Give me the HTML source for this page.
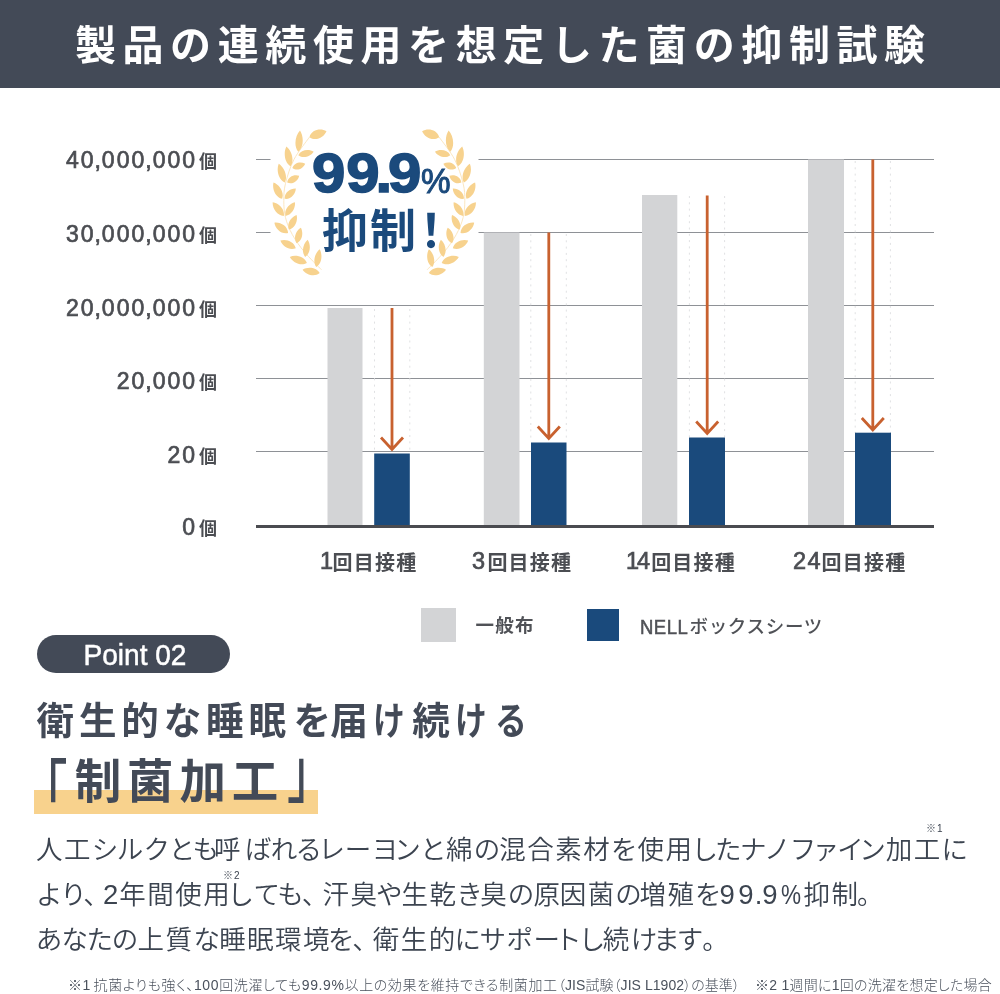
<!DOCTYPE html>
<html lang="ja">
<head>
<meta charset="utf-8">
<title>製品の連続使用を想定した菌の抑制試験</title>
<style>
html,body{margin:0;padding:0;background:#fff;}
body{width:1000px;height:994px;position:relative;overflow:hidden;
  font-family:"Liberation Sans","Noto Sans CJK JP",sans-serif;color:#434a57;}
.abs{position:absolute;white-space:nowrap;line-height:1;}
#hdr{position:absolute;left:0;top:0;width:1000px;height:87.8px;background:#434a57;}
#title{left:0;width:1000px;top:26px;text-align:center;color:#fff;font-size:41px;font-weight:700;letter-spacing:6.6px;text-indent:6.6px;}
.yl{right:783px;font-size:23px;font-weight:400;letter-spacing:2px;color:#4b4d52;text-align:right;-webkit-text-stroke:0.7px #4b4d52;}
.yl span{font-size:18px;letter-spacing:0;font-weight:700;margin-left:2px;-webkit-text-stroke:0;}
.yl i{font-style:normal;margin:0 -1px;}
.grid{position:absolute;left:256px;width:678px;height:1px;background:#8e9196;}
.gb{position:absolute;background:#d3d4d6;}
.bb{position:absolute;background:#1a4a7c;}
.xl{font-size:20px;font-weight:700;letter-spacing:1.2px;color:#4b4d52;top:551px;}
.xl b{position:relative;top:-1px;font-size:23.5px;font-weight:400;letter-spacing:1.5px;-webkit-text-stroke:0.7px #4b4d52;margin-right:0;}
.lg{font-size:18.5px;font-weight:700;letter-spacing:0.5px;color:#505257;}
.nl{display:inline-block;font-weight:400;font-size:21px;letter-spacing:0.6px;transform:scaleX(0.88);transform-origin:0 50%;margin-right:-5.5px;-webkit-text-stroke:0.6px #505257;position:relative;top:0.5px;}
#pill{position:absolute;left:36.6px;top:635.3px;width:193.8px;height:37.3px;border-radius:19px;background:#434a57;}
#pilltx{left:35px;width:200px;top:640px;text-align:center;color:#fff;font-size:29.5px;letter-spacing:0;transform:scaleX(0.95);-webkit-text-stroke:0.5px #fff;}
#h1{left:36.5px;top:702.5px;font-size:37.5px;font-weight:700;letter-spacing:4.9px;color:#434a57;}
#h1 .k{display:inline-block;transform:scaleX(0.85);transform-origin:0 50%;margin-right:-5.5px;}
#hl{position:absolute;left:33.5px;top:790.4px;width:284px;height:23.4px;background:#f8d28d;}
#h2 .br{display:inline-block;font-weight:500;}
#h2{left:22.5px;top:759px;font-size:46.5px;font-weight:700;letter-spacing:5.8px;color:#434a57;}
.body{left:36px;font-size:26.5px;font-weight:350;letter-spacing:1.5px;color:#3c4450;font-feature-settings:"palt";}
.body .h{letter-spacing:-0.3px;}
.body .d{font-size:27.5px;letter-spacing:3.4px;}
.body .p{display:inline-block;font-size:27.5px;letter-spacing:0;transform:scaleX(0.82);transform-origin:0 50%;margin-right:2px;}
.sup{font-size:10px;color:#3c4450;letter-spacing:1px;}
#fn{left:69px;top:977.5px;font-size:14px;font-weight:300;letter-spacing:0px;color:#4a515c;font-feature-settings:"palt";}
</style>
</head>
<body>
<div id="hdr"></div>
<div id="title" class="abs">製品の連続使用を想定した菌の抑制試験</div>

<!-- chart -->
<div class="grid" style="top:159px"></div>
<div class="grid" style="top:232px"></div>
<div class="grid" style="top:305px"></div>
<div class="grid" style="top:378px"></div>
<div class="grid" style="top:451px"></div>

<div class="abs yl" style="top:149px">40<i>,</i>000<i>,</i>000<span>個</span></div>
<div class="abs yl" style="top:223px">30<i>,</i>000<i>,</i>000<span>個</span></div>
<div class="abs yl" style="top:296.5px">20<i>,</i>000<i>,</i>000<span>個</span></div>
<div class="abs yl" style="top:370px">20<i>,</i>000<span>個</span></div>
<div class="abs yl" style="top:444px">20<span>個</span></div>
<div class="abs yl" style="top:516px">0<span>個</span></div>

<svg class="abs" style="left:0;top:0" width="1000" height="994" viewBox="0 0 1000 994">
  <g fill="#d3d4d6">
    <rect x="327.500" y="308" width="35" height="217"/>
    <rect x="483.800" y="232.500" width="35.700" height="292.500"/>
    <rect x="642" y="195" width="35.300" height="330"/>
    <rect x="808" y="159.500" width="36" height="365.500"/>
  </g>
  <g stroke="#e0e1e3" stroke-width="1" stroke-dasharray="2 4.300" fill="none">
    <path d="M374.500 309V453M409.800 309V453"/>
    <path d="M530.800 234V442M566.300 234V442"/>
    <path d="M689.400 196V437M724.600 196V437"/>
    <path d="M855.200 161V433M890.400 161V433"/>
  </g>
  <g fill="#1a4a7c">
    <rect x="374.200" y="453.500" width="35.600" height="71.500"/>
    <rect x="531" y="442.500" width="35.500" height="82.500"/>
    <rect x="689" y="437.500" width="36" height="87.500"/>
    <rect x="855" y="432.700" width="36" height="92.300"/>
  </g>
  <g stroke="#c8612f" stroke-width="2.8" fill="none" stroke-linecap="butt" stroke-linejoin="miter">
    <path d="M392 308V450M381 437.500L392 449.500L403 437.500"/>
    <path d="M548.800 232.500V439M537.800 426.500L548.800 438.500L559.800 426.500"/>
    <path d="M707.200 195.500V434M696.200 421.500L707.200 433.500L718.200 421.500"/>
    <path d="M872.800 159.500V429M861.800 418L872.800 430L883.800 418"/>
  </g>
  <rect x="256" y="525" width="678" height="3" fill="#4a4b50"/>
</svg>

<div class="abs xl" style="left:320px"><b style="margin-right:-2px">1</b>回目接種</div>
<div class="abs xl" style="left:472px"><b style="margin-right:0.8px">3</b>回目接種</div>
<div class="abs xl" style="left:626px"><b style="letter-spacing:-2px">1</b><b style="margin-right:-0.5px">4</b>回目接種</div>
<div class="abs xl" style="left:793px"><b style="margin-right:-0.6px">24</b>回目接種</div>

<div class="gb" style="left:421.4px;top:607.8px;width:34.8px;height:33.8px"></div>
<div class="abs lg" style="left:475.5px;top:616.5px;letter-spacing:1.3px">一般布</div>
<div class="bb" style="left:586.7px;top:608.9px;width:32.3px;height:31.9px"></div>
<div class="abs lg" style="left:640px;top:615px;font-weight:500;letter-spacing:0.7px"><span class="nl">NELL</span>ボックスシーツ</div>

<!-- badge -->
<!--LAUREL-->
<svg class="abs" style="left:0;top:0" width="1000" height="994" viewBox="0 0 1000 994">
  <rect x="270.500" y="118" width="208" height="172" fill="#fff"/>
  <path fill="none" stroke="#fae3b8" stroke-width="0.9" d="M309.4 137.2C306.8 140.9 298.0 151.7 294.0 159.4C290.0 167.1 287.2 176.6 285.5 183.4C283.8 190.2 283.8 194.8 283.8 200.5C283.8 206.2 284.1 211.9 285.5 217.6C286.9 223.3 289.3 229.0 292.4 234.7C295.5 240.4 299.5 246.0 304.3 251.8C309.1 257.6 318.5 266.7 321.4 269.7M439.2 137.2C441.8 140.9 450.6 151.7 454.6 159.4C458.6 167.1 461.4 176.6 463.1 183.4C464.8 190.2 464.8 194.8 464.8 200.5C464.8 206.2 464.5 211.9 463.1 217.6C461.7 223.3 459.3 229.0 456.2 234.7C453.1 240.4 449.1 246.0 444.3 251.8C439.5 257.6 430.1 266.7 427.2 269.7"/>
  <path fill="#f7d28e" d="M298.3 151.8C304.0 146.9 303.8 136.1 300.0 130.4C295.3 135.4 293.4 146.0 298.3 151.8ZM290.6 166.3C294.7 160.3 291.6 150.6 286.4 146.6C283.3 152.4 284.4 162.5 290.6 166.3ZM284.7 182.5C288.2 176.2 284.2 167.1 278.7 163.7C276.2 169.7 278.2 179.4 284.7 182.5ZM282.1 198.8C284.6 192.3 279.4 184.6 273.5 182.5C271.9 188.6 275.3 197.2 282.1 198.8ZM283.8 215.9C285.1 209.1 278.8 203.0 272.7 202.2C272.2 208.3 276.9 215.8 283.8 215.9ZM288.1 233.0C287.9 226.2 280.4 221.9 274.4 222.7C275.3 228.7 281.5 234.7 288.1 233.0ZM295.8 248.3C294.3 241.6 286.1 238.7 280.4 240.6C282.4 246.3 289.6 251.1 295.8 248.3ZM306.9 262.9C304.4 256.4 295.5 254.4 289.8 256.9C292.7 262.4 300.9 266.4 306.9 262.9ZM319.7 273.1C316.5 267.1 307.7 266.4 302.6 269.7C306.0 274.7 314.4 277.4 319.7 273.1ZM298.3 155.2C303.2 159.1 310.7 156.5 313.7 151.8C309.0 148.8 301.1 149.6 298.3 155.2ZM292.4 168.0C297.2 171.6 303.2 168.5 305.2 163.7C300.8 161.1 294.0 162.3 292.4 168.0ZM287.2 182.5C292.6 185.1 298.1 180.8 299.2 175.7C294.3 174.0 287.8 176.5 287.2 182.5ZM284.7 198.8C290.8 199.8 295.7 193.9 295.8 188.5C290.4 188.2 284.1 192.6 284.7 198.8ZM285.5 215.9C291.9 215.2 295.8 207.8 294.9 202.2C289.3 203.4 283.8 209.7 285.5 215.9ZM288.9 229.5C295.2 228.2 298.1 220.5 296.6 215.0C291.2 216.8 286.5 223.6 288.9 229.5ZM296.6 243.2C302.4 240.7 303.6 232.7 300.9 227.8C296.0 230.6 293.0 238.0 296.6 243.2ZM305.2 256.9C310.7 253.3 311.0 244.6 307.7 239.8C303.2 243.5 301.0 251.9 305.2 256.9ZM316.3 267.1C322.0 263.5 322.7 254.4 319.7 249.2C315.0 252.9 312.3 261.7 316.3 267.1ZM309.4 137.2C315.8 141.7 323.9 137.5 326.5 131.2C320.5 127.9 311.6 129.7 309.4 137.2Z"/>
  <path fill="#f7d28e" d="M450.3 151.8C455.2 146.0 453.3 135.4 448.6 130.4C444.8 136.1 444.6 146.9 450.3 151.8ZM458.0 166.3C464.2 162.5 465.3 152.4 462.2 146.6C457.0 150.6 453.9 160.3 458.0 166.3ZM463.9 182.5C470.4 179.4 472.4 169.7 469.9 163.7C464.4 167.1 460.4 176.2 463.9 182.5ZM466.5 198.8C473.3 197.2 476.7 188.6 475.1 182.5C469.2 184.6 464.0 192.3 466.5 198.8ZM464.8 215.9C471.7 215.8 476.4 208.3 475.9 202.2C469.8 203.0 463.5 209.1 464.8 215.9ZM460.5 233.0C467.1 234.7 473.3 228.7 474.2 222.7C468.2 221.9 460.7 226.2 460.5 233.0ZM452.8 248.3C459.0 251.1 466.2 246.3 468.2 240.6C462.5 238.7 454.3 241.6 452.8 248.3ZM441.7 262.9C447.7 266.4 455.9 262.4 458.8 256.9C453.1 254.4 444.2 256.4 441.7 262.9ZM428.9 273.1C434.2 277.4 442.6 274.7 446.0 269.7C440.9 266.4 432.1 267.1 428.9 273.1ZM450.3 155.2C447.5 149.6 439.6 148.8 434.9 151.8C437.9 156.5 445.4 159.1 450.3 155.2ZM456.2 168.0C454.6 162.3 447.8 161.1 443.4 163.7C445.4 168.5 451.4 171.6 456.2 168.0ZM461.4 182.5C460.8 176.5 454.3 174.0 449.4 175.7C450.5 180.8 456.0 185.1 461.4 182.5ZM463.9 198.8C464.5 192.6 458.2 188.2 452.8 188.5C452.9 193.9 457.8 199.8 463.9 198.8ZM463.1 215.9C464.8 209.7 459.3 203.4 453.7 202.2C452.8 207.8 456.7 215.2 463.1 215.9ZM459.7 229.5C462.1 223.6 457.4 216.8 452.0 215.0C450.5 220.5 453.4 228.2 459.7 229.5ZM452.0 243.2C455.6 238.0 452.6 230.6 447.7 227.8C445.0 232.7 446.2 240.7 452.0 243.2ZM443.4 256.9C447.6 251.9 445.4 243.5 440.9 239.8C437.6 244.6 437.9 253.3 443.4 256.9ZM432.3 267.1C436.3 261.7 433.6 252.9 428.9 249.2C425.9 254.4 426.6 263.5 432.3 267.1ZM439.2 137.2C437.0 129.7 428.1 127.9 422.1 131.2C424.7 137.5 432.8 141.7 439.2 137.2Z"/>
</svg>
<!--/LAUREL-->
<div class="abs" id="b1" style="left:312.3px;top:145.5px;font-size:55px;font-weight:700;color:#1b4a7c;letter-spacing:0.8px;-webkit-text-stroke:1.5px #1b4a7c;transform:scaleX(1.09);transform-origin:0 50%;">99<i style="font-style:normal;margin:0 -4.6px">.</i>9</div>
<div class="abs" id="pct" style="left:420.5px;top:162.5px;font-size:35px;font-weight:400;color:#1b4a7c;transform:scaleX(0.95);transform-origin:0 50%;-webkit-text-stroke:1px #1b4a7c">%</div>
<div class="abs" id="b2" style="left:322px;top:208px;font-size:46px;font-weight:700;color:#1b4a7c;letter-spacing:2px;">抑制<span style="margin-left:-10px">！</span></div>

<!-- point -->
<div id="pill"></div>
<div id="pilltx" class="abs">Point 02</div>
<div id="h1" class="abs">衛生的な睡眠<span style="margin-left:2.5px">を</span><span style="margin-left:-5.5px">届</span><span class="k">け</span><span style="margin-left:2.5px">続</span><span class="k">け</span><span class="k" style="margin-left:4px">る</span></div>
<div id="hl"></div>
<div id="h2" class="abs"><span class="br" style="transform-origin:50% -1px;transform:scaleY(1.46);margin:0 1.5px 0 -1.5px">「</span>制菌加工<span class="br" style="transform-origin:50% 44px;transform:translateY(1px) scaleY(1.46);margin-left:3px">」</span></div>

<div class="abs body" id="l1" style="top:837px">人工シルク<span class="h">とも</span><span style="margin-left:-3.4px"></span>呼<span style="margin-left:2px"></span><span class="h">ばれる</span>レーヨ<span style="margin-left:-3.8px"></span>ン<span class="h">と</span><span style="margin-left:2.4px"></span>綿<span class="h">の</span>混合素材<span class="h">を</span><span style="margin-left:2px"></span>使用<span class="h">した</span>ナノ<span style="margin-left:3.2px"></span>ファイ<span style="margin-left:-2.4px"></span>ン加工<span class="h">に</span></div>
<div class="abs body" id="l2" style="top:881px"><span style="margin-left:1.5px"></span><span class="h">よ</span><span style="margin-left:1.5px"></span><span class="h">り</span>、<span style="margin-left:4.7px"></span><span class="d">2</span><span style="margin-left:-2.6px"></span>年間使用<span style="margin-left:-1.5px"></span><span class="h">し</span><span style="margin-left:2.8px"></span><span class="h">ても</span>、<span style="margin-left:5.6px"></span>汗臭<span style="margin-left:-1.6px"></span><span class="h">や</span>生乾<span class="h">き</span>臭<span class="h">の</span>原<span style="margin-left:-1.8px"></span>因菌<span class="h">の</span><span style="margin-left:-1.6px"></span>増殖<span class="h">を</span><span class="d">99</span><span style="margin-left:-2.2px"></span><span class="d">.</span><span style="margin-left:-3.7px"></span><span class="d">9</span><span class="p">%</span><span style="margin-left:-3.7px"></span>抑制<span style="margin-left:-3px"></span>。</div>
<div class="abs body" id="l3" style="top:927px"><span class="h">あなたの</span>上質<span class="h">な</span>睡眠環境<span style="margin-left:-2.8px"></span><span class="h">を</span>、<span style="margin-left:5.6px"></span>衛生的<span style="margin-left:-2px"></span><span class="h">に</span>サポー<span style="margin-left:-2.4px"></span>ト<span class="h">し</span>続<span class="h">け</span><span style="margin-left:-2.4px"></span><span class="h">ます</span>。</div>
<div class="abs sup" style="left:926px;top:824px">※1</div>
<div class="abs sup" style="left:223px;top:870.5px">※2</div>

<div id="fn" class="abs"><span id="f1" style="position:absolute;left:-1px;top:0;letter-spacing:0.62px;word-spacing:-2px">※1 抗菌よりも強く、100回洗濯しても99.9%以上の効果を維持できる制菌加工</span><span id="f2" style="position:absolute;left:489px;top:0;letter-spacing:0.05px">（JIS試験（JIS L1902）の基準）</span><span id="f3" style="position:absolute;left:686px;top:0;letter-spacing:0.25px">※2 1週間に1回の洗濯を想定した場合</span></div>
</body>
</html>
